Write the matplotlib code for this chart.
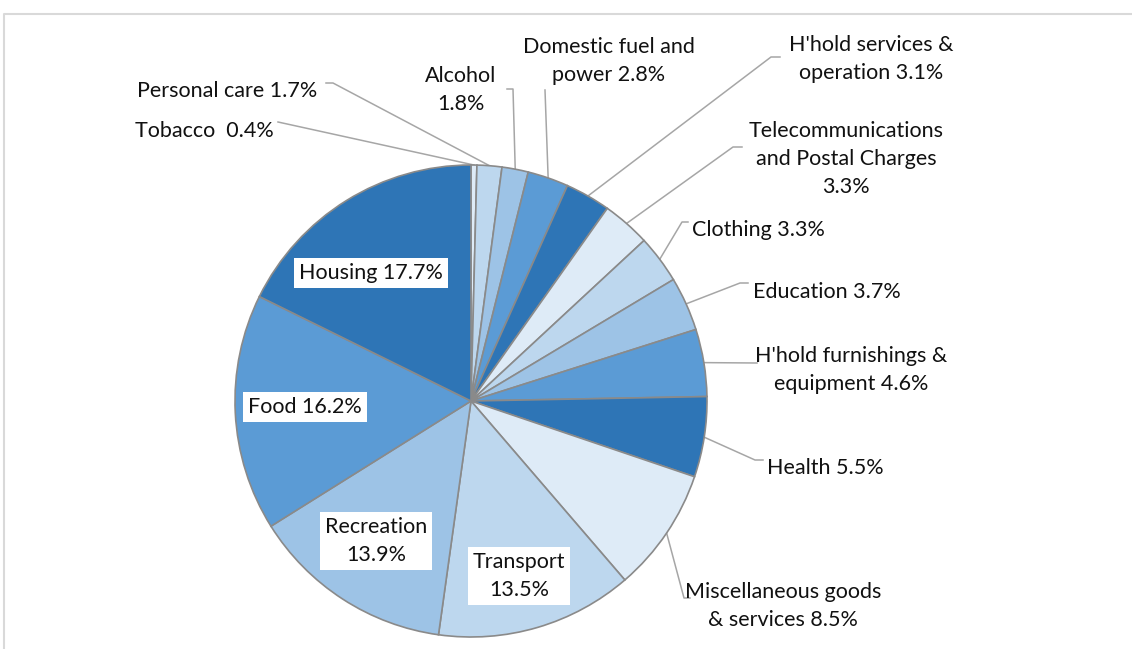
import matplotlib.pyplot as plt
import numpy as np

# data, clockwise from 12 o'clock
categories = ["Tobacco", "Personal care", "Alcohol", "Domestic fuel and power",
              "H'hold services & operation", "Telecommunications and Postal Charges",
              "Clothing", "Education", "H'hold furnishings & equipment", "Health",
              "Miscellaneous goods & services", "Transport", "Recreation", "Food",
              "Housing"]
shares = [0.4, 1.7, 1.8, 2.8, 3.1, 3.3, 3.3, 3.7, 4.6, 5.5, 8.5, 13.5, 13.9, 16.2, 17.7]
label_texts = ["Tobacco  0.4%", "Personal care 1.7%", "Alcohol\n1.8%",
               "Domestic fuel and\npower 2.8%", "H'hold services &\noperation 3.1%",
               "Telecommunications\nand Postal Charges\n3.3%", "Clothing 3.3%",
               "Education 3.7%", "H'hold furnishings &\nequipment 4.6%", "Health 5.5%",
               "Miscellaneous goods\n& services 8.5%", "Transport\n13.5%",
               "Recreation\n13.9%", "Food 16.2%", "Housing 17.7%"]
palette = ["#DEEBF7", "#BDD7EE", "#9DC3E6", "#5B9BD5", "#2E75B6"]

W, H = 1132, 649
CX, CY, R = 471, 401, 236
FS = 15.5
LS = 1.48

# label layout in pixel coords (x, y, ha) and leader elbow points (None = inside label)
label_pos = [(135, 131, "left"), (137, 91, "left"), (461, 90, "center"),
             (609, 61, "center"), (871, 59, "center"), (846, 159, "center"),
             (692, 230, "left"), (753, 292, "left"), (851, 370, "center"),
             (767, 468, "left"), (783, 606, "center"), (519, 576, "center"),
             (376, 541, "center"), (305, 407, "center"), (371, 273, "center")]
elbows = [[(278, 122)], [(326, 83), (333, 83)], [(507, 89), (513, 89)],
          [(545, 90)], [(780, 57), (771, 57)], [(742, 147), (733, 147)],
          [(688, 222), (682, 222)], [(748, 283), (740, 283)],
          [(757, 363)], [(763, 460), (755, 460)], [(690, 598), (684, 598)],
          None, None, None, None]

plt.rcParams['font.family'] = ['Lato', 'DejaVu Sans']

fig = plt.figure(figsize=(W / 100, H / 100), dpi=100)
ax = fig.add_axes([0, 0, 1, 1])

colors = [palette[i % len(palette)] for i in range(len(shares))]
wedges, _ = ax.pie(shares, colors=colors, startangle=90, counterclock=False,
                   center=(CX, H - CY), radius=R,
                   wedgeprops=dict(edgecolor="#8a8a8a", linewidth=1.2))
ax.set_xlim(0, W)
ax.set_ylim(0, H)
ax.set_aspect("equal")
ax.axis("off")

# chart area border
ax.plot([4, 4, W + 5], [-5, H - 14, H - 14], color="#d9d9d9", lw=1.5,
        clip_on=False)

for w, text, (x, y, ha), elb in zip(wedges, label_texts, label_pos, elbows):
    if elb is None:
        ax.text(x, H - y, text, ha="center", va="center", fontsize=FS,
                color="#111111", linespacing=LS,
                bbox=dict(boxstyle="square,pad=0.22", fc="white", ec="none"))
        continue
    mid = np.deg2rad((w.theta1 + w.theta2) / 2)
    anchor = (CX + R * np.cos(mid), H - CY + R * np.sin(mid))
    pts = [(px, H - py) for px, py in elb] + [anchor]
    xs, ys = zip(*pts)
    ax.plot(xs, ys, color="#a6a6a6", lw=1.1, zorder=0.5)
    ax.text(x, H - y, text, ha=ha, va="center", fontsize=FS, color="#111111",
            linespacing=LS, multialignment="center")

fig.savefig("out.png", dpi=100)
